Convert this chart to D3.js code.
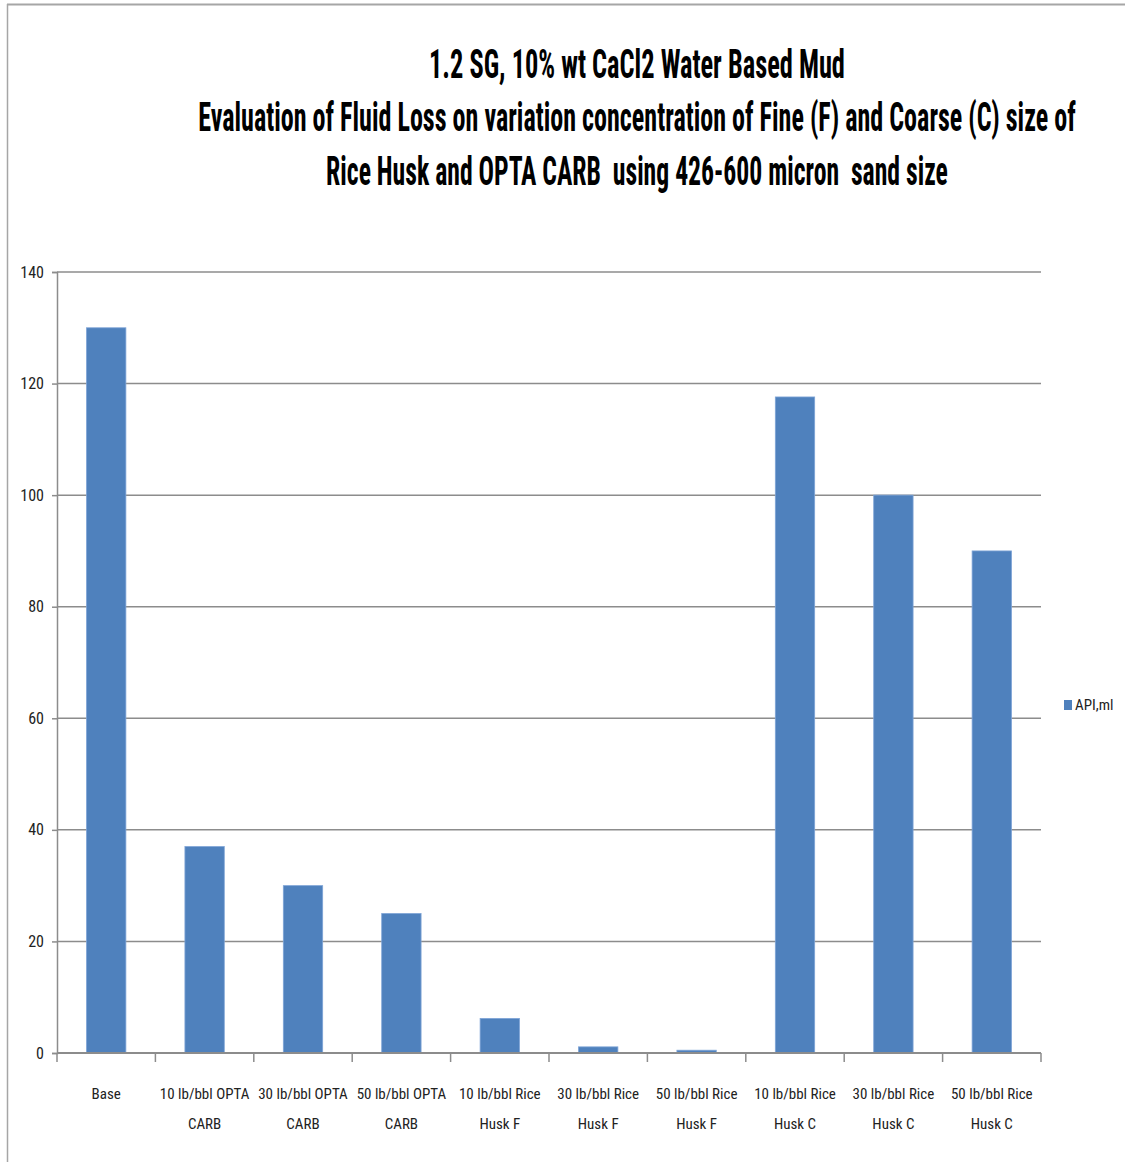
<!DOCTYPE html>
<html>
<head>
<meta charset="utf-8">
<script src="https://cdn.jsdelivr.net/npm/d3@7"></script>
<style>
  body { margin: 0; background: #fff; }
  svg text { font-family: "Liberation Sans Narrow", "Roboto Condensed", "Liberation Sans", sans-serif; fill: #222; }
</style>
</head>
<body>
<div id="chart"></div>
<script>
// category labels (two lines each, as drawn under the axis)
const categories = [
  "Base",
  "10 lb/bbl OPTA CARB",
  "30 lb/bbl OPTA CARB",
  "50 lb/bbl OPTA CARB",
  "10 lb/bbl Rice Husk F",
  "30 lb/bbl Rice Husk F",
  "50 lb/bbl Rice Husk F",
  "10 lb/bbl Rice Husk C",
  "30 lb/bbl Rice Husk C",
  "50 lb/bbl Rice Husk C"
];
const labelLines = [
  ["Base"],
  ["10 lb/bbl OPTA", "CARB"],
  ["30 lb/bbl OPTA", "CARB"],
  ["50 lb/bbl OPTA", "CARB"],
  ["10 lb/bbl Rice", "Husk F"],
  ["30 lb/bbl Rice", "Husk F"],
  ["50 lb/bbl Rice", "Husk F"],
  ["10 lb/bbl Rice", "Husk C"],
  ["30 lb/bbl Rice", "Husk C"],
  ["50 lb/bbl Rice", "Husk C"]
];
const apiValues = [130, 37, 30, 25, 6.2, 1.1, 0.5, 117.6, 100, 90];
const yTicks = [0, 20, 40, 60, 80, 100, 120, 140];
const seriesName = "API,ml";
const titleLines = [
  "1.2 SG, 10% wt CaCl2 Water Based Mud",
  "Evaluation of Fluid Loss on variation concentration of Fine (F) and Coarse (C) size of",
  "Rice Husk and OPTA CARB  using 426-600 micron  sand size"
];

const width = 1125, height = 1162;
const plot = { left: 57, right: 1041, top: 272, bottom: 1053 };

const svg = d3.select("#chart").append("svg")
  .attr("width", width)
  .attr("height", height);

// outer frame (only top and left edges are visible in the picture)
svg.append("line").attr("x1", 7).attr("x2", width).attr("y1", 4.5).attr("y2", 4.5)
  .attr("stroke", "#a6a6a6").attr("stroke-width", 2);
svg.append("line").attr("x1", 7.5).attr("x2", 7.5).attr("y1", 4).attr("y2", height)
  .attr("stroke", "#a6a6a6").attr("stroke-width", 1.5);

// title: tall condensed letters, squeezed horizontally to the picture's widths
const titleY = [78, 131, 185];
const titleW = [416, 878, 622];
svg.selectAll("text.title")
  .data(titleLines)
  .enter()
  .append("text")
  .attr("class", "title")
  .attr("x", 0)
  .attr("y", 0)
  .attr("text-anchor", "middle")
  .attr("font-size", 40)
  .attr("font-weight", "bold")
  .style("white-space", "pre")
  .style("fill", "#000")
  .text(d => d)
  .each(function (d, i) {
    const w = this.getComputedTextLength();
    const s = w > 0 ? titleW[i] / w : 1;
    d3.select(this).attr("transform", `translate(637,${titleY[i]}) scale(${s},1)`);
  });

const x = d3.scaleBand()
  .domain(categories)
  .range([plot.left, plot.right])
  .paddingInner(0.6)
  .paddingOuter(0.3);

const y = d3.scaleLinear()
  .domain([0, 140])
  .range([plot.bottom, plot.top]);

// gridlines
svg.append("g")
  .selectAll("line")
  .data(yTicks.filter(t => t > 0))
  .enter()
  .append("line")
  .attr("x1", plot.left)
  .attr("x2", plot.right)
  .attr("y1", d => y(d))
  .attr("y2", d => y(d))
  .attr("stroke", "#8c8c8c")
  .attr("stroke-width", 1.5);

// y axis
const yAxis = svg.append("g")
  .attr("transform", `translate(${plot.left},0)`)
  .call(d3.axisLeft(y).tickValues(yTicks).tickSize(5).tickPadding(8));
yAxis.select(".domain").attr("stroke", "#8c8c8c").attr("stroke-width", 1.5);
yAxis.selectAll(".tick line").attr("stroke", "#8c8c8c").attr("stroke-width", 1.5);
yAxis.selectAll("text").attr("font-size", 16).attr("font-family", null).style("fill", "#222");

// bars
svg.append("g")
  .selectAll("rect")
  .data(apiValues)
  .enter()
  .append("rect")
  .attr("x", (d, i) => x(categories[i]))
  .attr("y", d => y(d))
  .attr("width", x.bandwidth())
  .attr("height", d => y(0) - y(d))
  .attr("fill", "#4f81bd")
  .attr("stroke", "#7ea4d6")
  .attr("stroke-width", 0.8);

// x axis with ticks at category boundaries
const step = x.step();
const boundaries = d3.range(categories.length + 1).map(i => plot.left + i * step);
svg.append("line")
  .attr("x1", plot.left).attr("x2", plot.right)
  .attr("y1", plot.bottom).attr("y2", plot.bottom)
  .attr("stroke", "#8c8c8c").attr("stroke-width", 2);
svg.append("g")
  .selectAll("line")
  .data(boundaries)
  .enter()
  .append("line")
  .attr("x1", d => d).attr("x2", d => d)
  .attr("y1", plot.bottom).attr("y2", plot.bottom + 9)
  .attr("stroke", "#8c8c8c").attr("stroke-width", 1.5);

// category labels
const labelGroups = svg.append("g")
  .selectAll("text")
  .data(labelLines)
  .enter()
  .append("text")
  .attr("text-anchor", "middle")
  .attr("font-size", 15)
  .attr("x", (d, i) => x(categories[i]) + x.bandwidth() / 2);
labelGroups.selectAll("tspan")
  .data(d => d)
  .enter()
  .append("tspan")
  .attr("x", function () { return d3.select(this.parentNode).attr("x"); })
  .attr("y", (d, j) => 1099 + j * 30)
  .text(d => d);

// legend
svg.append("rect")
  .attr("x", 1064).attr("y", 700).attr("width", 8).attr("height", 10)
  .attr("fill", "#4f81bd");
svg.append("text")
  .attr("x", 1075).attr("y", 710)
  .attr("font-size", 15)
  .text(seriesName);
</script>
</body>
</html>
